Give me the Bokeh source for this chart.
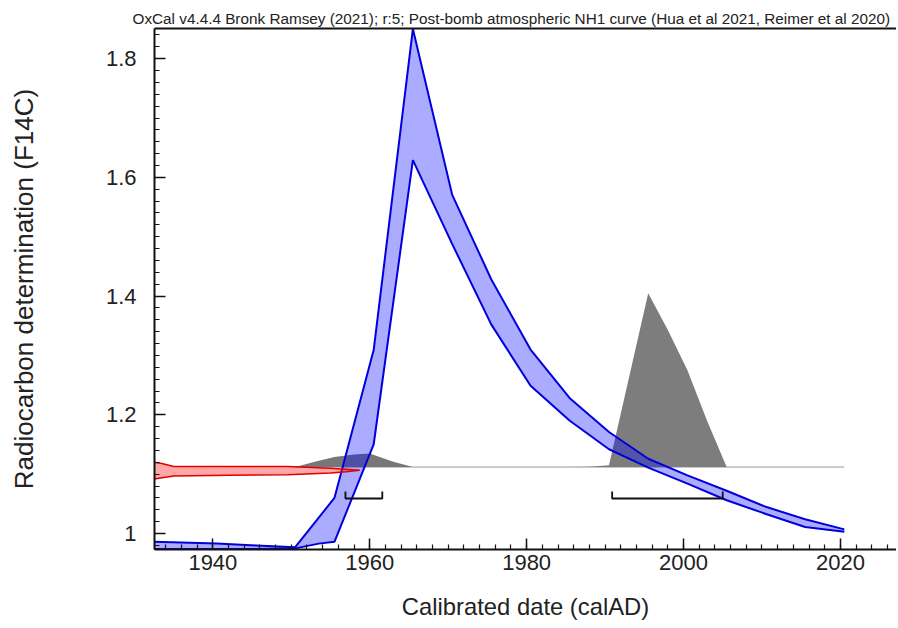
from bokeh.plotting import figure
from bokeh.models import Range1d, FixedTicker, LinearAxis, CustomJSTickFormatter
from bokeh.embed import file_html
from bokeh.resources import INLINE

TITLE = "OxCal v4.4.4 Bronk Ramsey (2021); r:5; Post-bomb atmospheric NH1 curve (Hua et al 2021, Reimer et al 2020)"
X_LABEL = "Calibrated date (calAD)"
Y_LABEL = "Radiocarbon determination (F14C)"

x_ticks = [1940, 1960, 1980, 2000, 2020]
x_minor_ticks = list(range(1934, 2028, 2))
y_ticks = [1.0, 1.2, 1.4, 1.6, 1.8]
y_minor_ticks = [round(0.98 + 0.02 * i, 2) for i in range(44)]

# calibration curve (blue band)
blue_upper_x = [1932.5, 1940.5, 1945.5, 1950.5, 1955.5, 1960.5, 1965.5, 1970.5, 1975.5,
                1980.5, 1985.5, 1990.5, 1995.5, 2000.5, 2005.5, 2010.5, 2015.5, 2020.5]
blue_upper_y = [0.986, 0.983, 0.980, 0.977, 1.060, 1.309, 1.850, 1.571, 1.428,
                1.310, 1.228, 1.171, 1.126, 1.098, 1.072, 1.045, 1.024, 1.007]
blue_lower_x = [1932.5, 1940.5, 1945.5, 1950.5, 1953.5, 1955.5, 1960.5, 1965.5, 1970.5,
                1975.5, 1980.5, 1985.5, 1990.5, 1995.5, 2000.5, 2005.5, 2010.5, 2015.5, 2020.5]
blue_lower_y = [0.974, 0.974, 0.974, 0.975, 0.983, 0.986, 1.150, 1.629, 1.488,
                1.352, 1.249, 1.190, 1.142, 1.111, 1.084, 1.056, 1.033, 1.011, 1.003]

# red band
red_upper_x = [1932.5, 1933.5, 1935.0, 1942.0, 1949.5, 1955.0, 1958.7]
red_upper_y = [1.120, 1.118, 1.113, 1.113, 1.113, 1.110, 1.1065]
red_lower_x = [1932.5, 1935.0, 1942.0, 1949.5, 1955.0, 1957.0, 1958.7]
red_lower_y = [1.092, 1.097, 1.098, 1.099, 1.102, 1.104, 1.1065]

# posterior distributions (grey)
hump1_x = [1950.5, 1953.0, 1955.5, 1958.0, 1960.0, 1963.0, 1965.5]
hump1_y = [1.112, 1.121, 1.129, 1.133, 1.135, 1.121, 1.112]
hump2_x = [1985.0, 1988.0, 1990.5, 1995.5, 1998.0, 2000.5, 2003.0, 2005.5]
hump2_y = [1.112, 1.1125, 1.115, 1.405, 1.343, 1.275, 1.190, 1.112]
baseline_x = [1950.5, 2020.5]
baseline_y = [1.112, 1.112]

# 95.4% ranges (brackets)
range_starts = [1956.9, 1990.9]
range_ends = [1961.6, 2005.0]
bracket_y = 1.059
bracket_top = 1.071

FONT = "Liberation Sans"

p = figure(width=896, height=622, output_backend="svg", toolbar_location=None,
           x_range=Range1d(1932.56, 2027.15), y_range=Range1d(0.9731, 1.8508),
           x_axis_type=None, y_axis_type=None,
           min_border_left=154, min_border_right=0, min_border_top=28, min_border_bottom=71,
           title=TITLE)
p.outline_line_color = None
p.background_fill_color = "white"
p.border_fill_color = "white"

p.title.text_font = FONT
p.title.text_font_size = "15.3px"
p.title.text_font_style = "normal"
p.title.text_color = "#222222"
p.title.align = "left"
p.title.standoff = 3
p.title.offset = -22

def style_axis(ax):
    ax.axis_line_width = 2
    ax.axis_line_color = "#111111"
    ax.major_tick_in = 11
    ax.major_tick_out = 0
    ax.minor_tick_in = 5
    ax.minor_tick_out = 0
    ax.major_tick_line_width = 1.5
    ax.minor_tick_line_width = 1.2
    ax.major_tick_line_color = "#111111"
    ax.minor_tick_line_color = "#111111"
    ax.major_label_text_font = FONT
    ax.major_label_text_font_size = "22px"
    ax.major_label_text_color = "#222222"
    ax.axis_label_text_font = FONT
    ax.axis_label_text_font_style = "normal"
    ax.axis_label_text_color = "#222222"

xaxis = LinearAxis(ticker=FixedTicker(ticks=x_ticks, minor_ticks=x_minor_ticks), axis_label=X_LABEL)
style_axis(xaxis)
xaxis.axis_label_text_font_size = "23.8px"
xaxis.major_label_standoff = 5
xaxis.axis_label_standoff = 20
p.add_layout(xaxis, "below")

yaxis = LinearAxis(ticker=FixedTicker(ticks=y_ticks, minor_ticks=y_minor_ticks), axis_label=Y_LABEL,
                   formatter=CustomJSTickFormatter(code="return Number(tick.toFixed(2)).toString();"))
style_axis(yaxis)
yaxis.axis_label_text_font_size = "26px"
yaxis.major_label_standoff = 18
yaxis.axis_label_standoff = 64
p.add_layout(yaxis, "left")

top_axis = LinearAxis(ticker=FixedTicker(ticks=[]), axis_line_width=2, axis_line_color="#111111",
                      major_tick_in=0, major_tick_out=0, minor_tick_in=0, minor_tick_out=0,
                      major_label_standoff=0, major_label_text_font_size="0px")
p.add_layout(top_axis, "above")

# grey distributions
p.line(baseline_x, baseline_y, line_color="#9a9a9a", line_width=1)
p.patch(hump1_x, hump1_y, fill_color="#777777", line_color=None)
p.patch(hump2_x, hump2_y, fill_color="#7d7d7d", line_color=None)

# blue calibration band
p.patch(blue_upper_x + blue_lower_x[::-1], blue_upper_y + blue_lower_y[::-1],
        fill_color="#0000ff", fill_alpha=0.33, line_color=None)
p.line(blue_upper_x, blue_upper_y, line_color="#0000dd", line_width=2)
p.line(blue_lower_x, blue_lower_y, line_color="#0000dd", line_width=2)

# red band
p.patch(red_upper_x + red_lower_x[::-1], red_upper_y + red_lower_y[::-1],
        fill_color="#ff0000", fill_alpha=0.35, line_color=None)
p.line(red_upper_x, red_upper_y, line_color="#e00000", line_width=1.5)
p.line(red_lower_x, red_lower_y, line_color="#e00000", line_width=1.5)

# brackets
bx = [[s, s, e, e] for s, e in zip(range_starts, range_ends)]
by = [[bracket_top, bracket_y, bracket_y, bracket_top] for _ in range_starts]
p.multi_line(bx, by, line_color="#111111", line_width=1.8)

open("out.html", "w").write(file_html(p, INLINE))
